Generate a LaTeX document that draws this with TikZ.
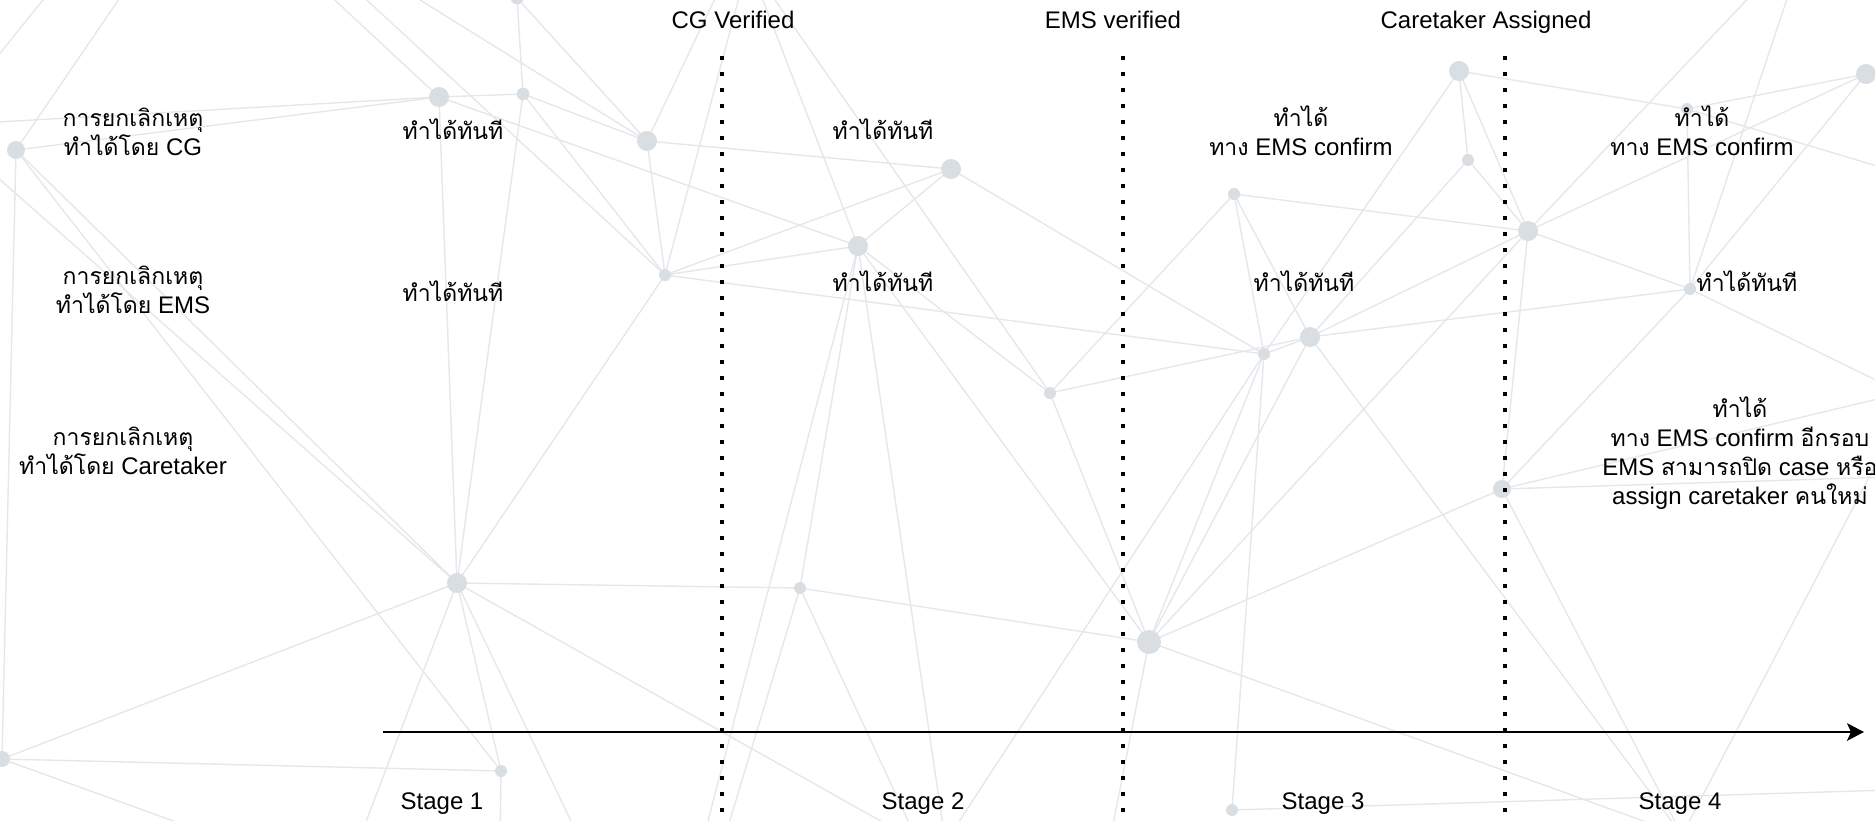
\documentclass[tikz,border=0pt]{standalone}
\usepackage{fontspec}
\setmainfont{Liberation Sans}
\newfontfamily\thai[Script=Thai,Scale=0.96]{Loma}
\usetikzlibrary{arrows.meta}
\definecolor{bgl}{RGB}{228,231,235}
\definecolor{bgd}{RGB}{217,222,226}
\begin{document}
\begin{tikzpicture}[x=0.5pt,y=-0.5pt,
  bgline/.style={draw=bgl,line width=0.7pt},
  vdots/.style={draw=black,line width=2pt,dash pattern=on 2pt off 6pt},
  axis/.style={draw=black,line width=1pt,-{Stealth[length=8.5pt,width=8.8pt,inset=2pt]}},
  lbl/.style={font=\fontsize{12}{14.5}\selectfont,align=center,inner sep=0pt,text=black}]
\useasboundingbox (0,0) rectangle (1875,820);
\clip (0,0) rectangle (1875,820);
% background network points
\coordinate (A) at (16,150);
\coordinate (B) at (439,97);
\coordinate (C) at (523,94);
\coordinate (D) at (517,-2);
\coordinate (E) at (647,141);
\coordinate (F) at (665,275);
\coordinate (G) at (951,169);
\coordinate (H) at (858,246);
\coordinate (I) at (1050,393);
\coordinate (J) at (1234,194);
\coordinate (K) at (1264,354);
\coordinate (L) at (1310,337);
\coordinate (M) at (1459,71);
\coordinate (N) at (1468,160);
\coordinate (O) at (1528,231);
\coordinate (P) at (1502,489);
\coordinate (Q) at (1690,289);
\coordinate (R) at (1687,109);
\coordinate (S) at (1866,74);
\coordinate (T) at (457,583);
\coordinate (U) at (800,588);
\coordinate (V) at (1149,642);
\coordinate (W) at (501,771);
\coordinate (X) at (2,759);
\coordinate (Y) at (1232,810);
\coordinate (Z) at (1682,835);
% off-canvas ends
\coordinate (o1) at (-20,78);
\coordinate (o2) at (59,-20);
\coordinate (o3) at (132,-20);
\coordinate (o4) at (-20,123);
\coordinate (o5) at (-20,162);
\coordinate (o6) at (324,-10);
\coordinate (o7) at (345,-20);
\coordinate (o8) at (404,-10);
\coordinate (o9) at (719,-10);
\coordinate (o10) at (741,-10);
\coordinate (o11) at (759,-10);
\coordinate (o12) at (768,-10);
\coordinate (o13) at (703,840);
\coordinate (o14) at (945,840);
\coordinate (o15) at (359,840);
\coordinate (o16) at (580,840);
\coordinate (o17) at (918,842);
\coordinate (o18) at (724,840);
\coordinate (o20) at (1110,840);
\coordinate (o21) at (947,840);
\coordinate (o22) at (226,840);
\coordinate (o23) at (500,840);
\coordinate (o24) at (1890,477);
\coordinate (o25) at (1890,396);
\coordinate (o26) at (1890,387);
\coordinate (o28) at (1900,418);
\coordinate (o29) at (1756,-10);
\coordinate (o30) at (1790,-10);
\coordinate (o31) at (1890,170);
\coordinate (o33) at (1890,790);
% background lines
\foreach \a/\b in {o1/o2,A/o3,A/B,o4/B,A/X,A/T,A/W,o5/T,B/o6,B/C,B/T,B/H,
  C/D,C/T,C/F,C/E,o7/F,o8/E,D/E,E/F,E/G,E/o9,F/o10,F/G,F/H,F/K,F/T,
  G/H,G/K,H/o11,I/o12,H/I,H/U,H/V,H/o13,H/o14,
  I/J,I/L,I/V,J/K,J/L,J/O,K/L,K/V,K/Y,M/K,N/L,O/L,
  L/Q,L/V,L/Z,M/N,M/O,M/R,N/O,O/P,O/Q,O/S,O/o29,O/V,
  R/Q,R/S,R/o31,S/Q,P/Q,P/V,P/Z,P/o24,P/o25,Q/o26,Z/o28,V/Z,Q/o30,
  T/U,T/W,T/X,T/o15,T/o16,T/o17,U/V,U/o18,U/o17,V/o20,o21/K,
  W/X,W/o23,X/o22,Y/o33}
  \draw[bgline] (\a) -- (\b);
\foreach \n/\r in {A/4.5,B/5,C/3.2,D/3.2,E/5,F/3,G/5,H/5,I/3,J/3,K/3,L/5,
  M/5,N/3,O/5,P/4.5,Q/3,R/3,S/5,T/5,U/3,V/6,W/3,X/4,Y/3}
  \fill[bgd] (\n) circle[radius=\r pt];
% timeline
\coordinate (cg0) at (722,56);  \coordinate (cg1) at (722,830);
\coordinate (em0) at (1123,56); \coordinate (em1) at (1123,830);
\coordinate (ca0) at (1505,56); \coordinate (ca1) at (1505,830);
\draw[vdots] (cg0) -- (cg1);
\draw[vdots] (em0) -- (em1);
\draw[vdots] (ca0) -- (ca1);
\coordinate (ax0) at (383,732); \coordinate (ax1) at (1864,732);
\draw[axis] (ax0) -- (ax1);
% headings
\node[lbl,anchor=base] (hcg) at (733,28) {CG Verified};
\node[lbl,anchor=base] (hem) at (1113,28) {EMS verified};
\node[lbl,anchor=base] (hca) at (1486,28) {Caretaker Assigned};
\node[lbl,anchor=base] (s1) at (442,809) {Stage 1};
\node[lbl,anchor=base] (s2) at (923,809) {Stage 2};
\node[lbl,anchor=base] (s3) at (1323,809) {Stage 3};
\node[lbl,anchor=base] (s4) at (1680,809) {Stage 4};
% row labels
\node[lbl] (rcg) at (133,132) {{\thai การยกเลิกเหตุ}\\{\thai ทำได้โดย} CG};
\node[lbl] (rem) at (133,289.5) {{\thai การยกเลิกเหตุ}\\{\thai ทำได้โดย} EMS};
\node[lbl] (rca) at (123,450.5) {{\thai การยกเลิกเหตุ}\\{\thai ทำได้โดย} Caretaker};
% cells
\node[lbl] (c11) at (453,129) {\thai ทำได้ทันที};
\node[lbl] (c12) at (453,291) {\thai ทำได้ทันที};
\node[lbl] (c21) at (883,129) {\thai ทำได้ทันที};
\node[lbl] (c22) at (883,281) {\thai ทำได้ทันที};
\node[lbl] (c31) at (1301,131) {{\thai ทำได้}\\{\thai ทาง} EMS confirm};
\node[lbl] (c32) at (1304,281) {\thai ทำได้ทันที};
\node[lbl] (c41) at (1702,131) {{\thai ทำได้}\\{\thai ทาง} EMS confirm};
\node[lbl] (c42) at (1747,281) {\thai ทำได้ทันที};
\node[lbl] (c43) at (1740,453) {{\thai ทำได้}\\{\thai ทาง} EMS confirm {\thai อีกรอบ}\\EMS {\thai สามารถปิด} case {\thai หรือ}\\assign caretaker {\thai คนใหม่}};
\end{tikzpicture}
\end{document}
